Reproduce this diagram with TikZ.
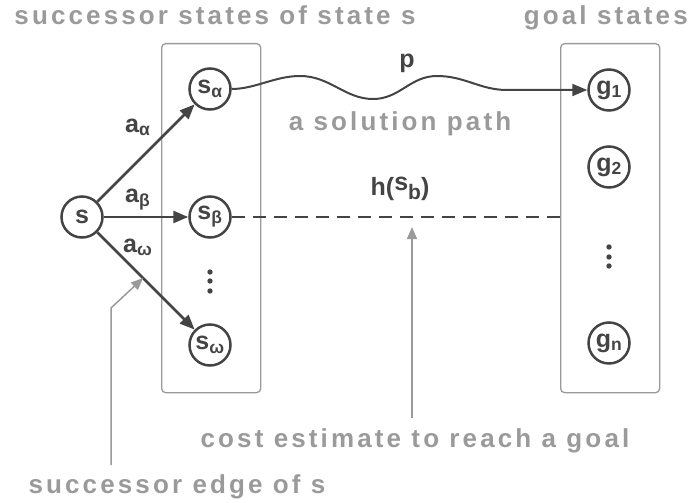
\documentclass[tikz,border=0pt]{standalone}
\usepackage{fontspec}
\setmainfont{Liberation Sans}
\newfontfamily\spacedfont{Liberation Sans}[LetterSpace=12]
\usetikzlibrary{arrows.meta, positioning}
\definecolor{ink}{HTML}{444444}
\definecolor{note}{HTML}{9A9A9A}

\begin{document}
\begin{tikzpicture}[x=1pt, y=-1pt,
    state/.style={draw=ink, circle, line width=2.5pt, minimum size=41pt, inner sep=0pt, text=ink, font=\fontsize{25}{25}\selectfont\bfseries},
    group/.style={draw=note, rectangle, rounded corners=4pt, line width=1.3pt, anchor=north west},
    note/.style={text=note, font=\spacedfont\fontsize{26}{30}\selectfont\bfseries, inner sep=0pt, anchor=base},
    lbl/.style={text=ink, font=\fontsize{25}{30}\selectfont\bfseries, inner sep=0pt, anchor=base},
    move/.style={draw=ink, line width=2.5pt, -{Triangle[length=15pt,width=12pt]}},
    pointer/.style={draw=note, line width=1.5pt, -{Triangle[length=12pt,width=10pt]}}]
    \useasboundingbox (0,0) rectangle (691,503);

    \node[group, minimum width=99pt, minimum height=349pt] (succbox) at (161,43) {};
    \node[group, minimum width=99pt, minimum height=349pt] (goalbox) at (560,43) {};
    \node[note] (succtitle) at (215,25) {successor states of state s};
    \node[note, anchor=base east] (goaltitle) at (688,25) {goal states};

    \node[state] (s) at (82,217) {s};
    \node[state] (sa) at (210,89) {s\textsubscript{α}};
    \node[state] (sb) at (210,217) {s\textsubscript{β}};
    \node[state] (sw) at (210,345) {s\textsubscript{ω}};
    \node[state] (g1) at (609,90) {g\textsubscript{1}};
    \node[state] (g2) at (609,167) {g\textsubscript{2}};
    \node[state] (gn) at (609,343) {g\textsubscript{n}};
    \foreach \y in {272,281,291} \fill[ink] (210,\y) circle (2.7pt);
    \foreach \y in {247,257,266} \fill[ink] (609,\y) circle (2.7pt);

    \draw[move] (s) -- (sa);
    \draw[move] (s) -- (sb);
    \draw[move] (s) -- (sw);
    \node[lbl, anchor=base west] (la) at (125,132) {a\textsubscript{α}};
    \node[lbl, anchor=base west] (lb) at (125,202) {a\textsubscript{β}};
    \node[lbl, anchor=base west] (lw) at (123,252) {a\textsubscript{ω}};

    % solution path
    \draw[move, line width=2pt] (sa.east) .. controls (255,89) and (275,76) .. (300,76) .. controls (330,76) and (345,99) .. (373,99) .. controls (400,99) and (410,76) .. (437,76) .. controls (465,76) and (480,90) .. (507,90) -- (g1.west);
    \node[lbl] (plbl) at (407,68) {p};
    \node[note] (soln) at (400,130) {a solution path};

    % heuristic
    \draw[ink, line width=2.5pt, dash pattern=on 13pt off 8pt] (sb.east) -- (sb.east -| goalbox.west);
    \node[lbl] (hlbl) at (400,195) {h(\raisebox{5pt}{s}\raisebox{-4pt}{\fontsize{21}{21}\selectfont b})};

    % pointers
    \path (s) -- (sw) coordinate[pos=0.47] (hit);
    \coordinate (edgefoot) at (111,465);
    \coordinate (edgebend) at (111,308);
    \draw[pointer] (edgefoot) -- (edgebend) -- (hit);
    \coordinate (costfoot) at (412,418);
    \coordinate (costtip) at (412,227);
    \draw[pointer] (costfoot) -- (costtip);
    \node[note] (costlbl) at (415,447) {cost estimate to reach a goal};
    \node[note] (edgelbl) at (177,493) {successor edge of s};
\end{tikzpicture}
\end{document}
